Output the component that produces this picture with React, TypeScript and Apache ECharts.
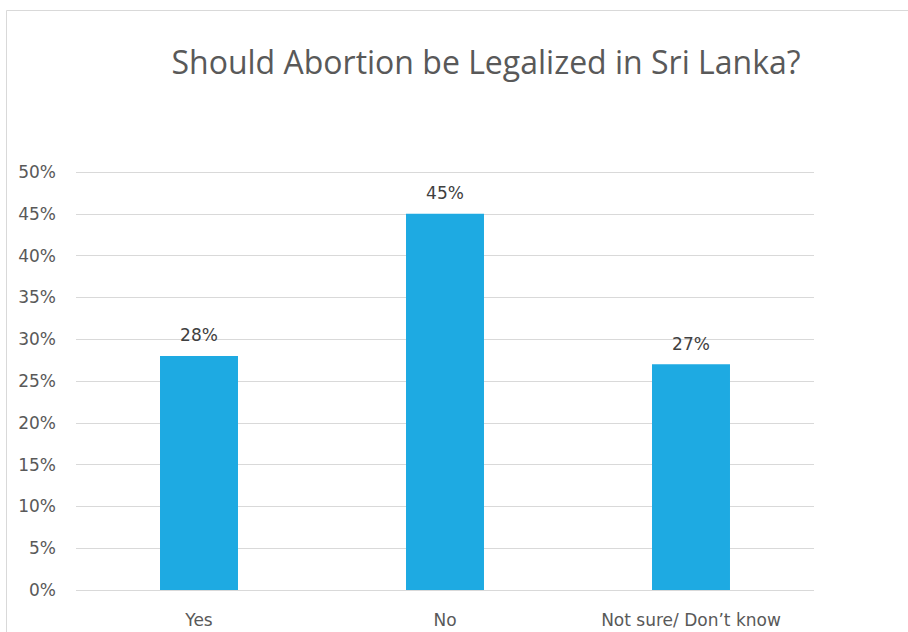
import React, { useEffect, useRef } from "react";
import * as echarts from "echarts";

const categories = ["Yes", "No", "Not sure/ Don\u2019t know"];
const values = [28, 45, 27];
const yTicks = [0, 5, 10, 15, 20, 25, 30, 35, 40, 45, 50];
const titleText = "Should Abortion be Legalized in Sri Lanka?";

export default function App() {
  const ref = useRef<HTMLDivElement>(null);
  useEffect(() => {
    const chart = echarts.init(ref.current!, null, { renderer: "svg" });
    chart.setOption({
      animation: false,
      backgroundColor: "#ffffff",
      title: {
        text: titleText,
        left: 481,
        top: 40,
        textAlign: "center",
        textStyle: {
          fontFamily: "Open Sans",
          fontSize: 32,
          fontWeight: "normal",
          color: "#595959",
        },
      },
      graphic: [
        {
          type: "rect",
          shape: { x: 6.5, y: 10.5, width: 1000, height: 1000 },
          style: { fill: "none", stroke: "#d9d9d9", lineWidth: 1 },
          silent: true,
        },
      ],
      grid: { left: 76, right: 94, top: 172, bottom: 42, containLabel: false },
      xAxis: {
        type: "category",
        data: categories,
        axisLine: { show: false },
        axisTick: { show: false },
        axisLabel: {
          margin: 21,
          fontFamily: "DejaVu Sans",
          fontSize: 17,
          color: "#595959",
        },
      },
      yAxis: {
        type: "value",
        min: yTicks[0],
        max: yTicks[yTicks.length - 1],
        interval: 5,
        axisLine: { show: false },
        axisTick: { show: false },
        splitLine: { lineStyle: { color: "#d9d9d9", width: 1 } },
        axisLabel: {
          margin: 20,
          fontFamily: "DejaVu Sans",
          fontSize: 17,
          color: "#595959",
          formatter: (v: number) => v + "%",
        },
      },
      series: [
        {
          type: "bar",
          data: values,
          barWidth: "31.7%",
          itemStyle: { color: "#1EAAE2" },
          label: {
            show: true,
            position: "top",
            distance: 12,
            fontFamily: "DejaVu Sans",
            fontSize: 17,
            color: "#404040",
            formatter: (p: any) => p.value + "%",
          },
        },
      ],
    });
    return () => chart.dispose();
  }, []);
  return <div ref={ref} style={{ width: 908, height: 632, position: "absolute", left: 0, top: 0 }} />;
}
